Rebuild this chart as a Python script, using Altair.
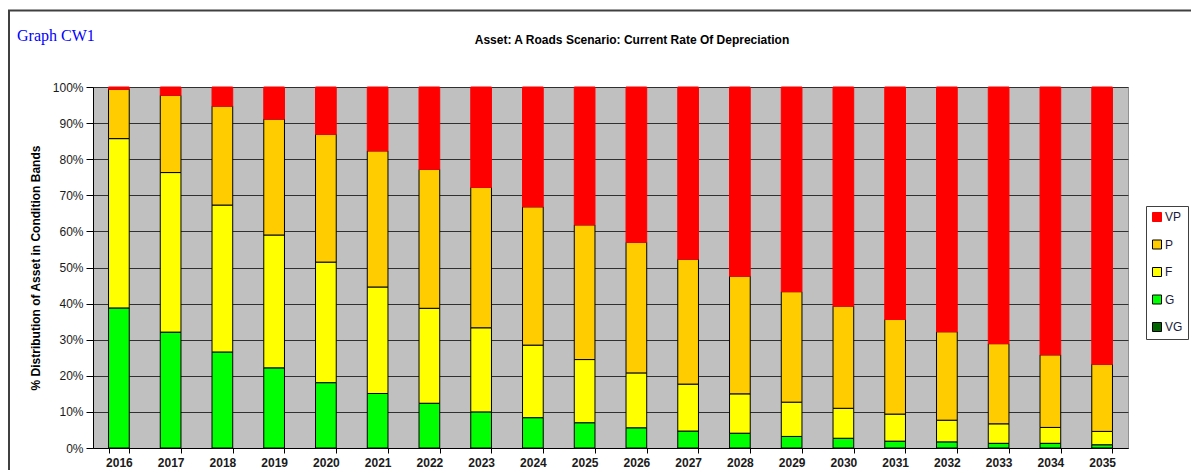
import altair as alt
import pandas as pd

years = [str(y) for y in range(2016, 2036)]
bands = ["VP", "P", "F", "G", "VG"]
band_colors = ["#FF0000", "#FFCC00", "#FFFF00", "#00FF00", "#006600"]
band_strokes = ["#FF0000", "#000000", "#000000", "#000000", "#000000"]

# percentage of asset in each condition band, per year
vg = [0.0] * 20
g = [38.8, 32.1, 26.6, 22.2, 18.1, 15.1, 12.4, 10.0, 8.4, 7.0,
     5.6, 4.7, 4.1, 3.2, 2.7, 1.9, 1.7, 1.3, 1.3, 0.9]
f = [46.9, 44.2, 40.7, 36.8, 33.4, 29.5, 26.3, 23.3, 20.1, 17.5,
     15.2, 13.0, 10.9, 9.5, 8.3, 7.5, 6.0, 5.4, 4.4, 3.7]
p = [13.7, 21.4, 27.4, 32.1, 35.4, 37.7, 38.5, 38.9, 38.3, 37.3,
     36.2, 34.6, 32.6, 30.6, 28.3, 26.2, 24.5, 22.2, 20.1, 18.6]
vp = [0.6, 2.3, 5.3, 8.9, 13.1, 17.7, 22.8, 27.8, 33.2, 38.2,
      43.0, 47.7, 52.4, 56.7, 60.7, 64.4, 67.8, 71.1, 74.2, 76.8]

series = {"VG": vg, "G": g, "F": f, "P": p, "VP": vp}
stack_rank = {"VG": 0, "G": 1, "F": 2, "P": 3, "VP": 4}

rows = []
for b, vals in series.items():
    for y, v in zip(years, vals):
        rows.append({"year": y, "band": b, "share": v / 100.0, "rank": stack_rank[b]})
df = pd.DataFrame(rows)

FONT = "Liberation Sans"

legend_opts = dict(title=None, orient="none", legendX=1053, legendY=119,
                   symbolType="square", symbolSize=81, symbolStrokeWidth=1,
                   labelFont=FONT, labelFontSize=12, labelColor="#1a1a3a",
                   labelOffset=2, padding=5, rowPadding=13.5,
                   strokeColor="#404040", fillColor="#FFFFFF")

bars = alt.Chart(df).mark_bar(strokeWidth=1).encode(
    x=alt.X("year:N", sort=years,
            scale=alt.Scale(paddingInner=0.6, paddingOuter=0.3),
            axis=alt.Axis(title=None, labelAngle=0, tickBand="extent", tickSize=5,
                          labelPadding=4, labelFont=FONT, labelFontSize=12,
                          labelFontWeight="bold", labelColor="#1a1a1a",
                          domainColor="#000000", tickColor="#000000", grid=False)),
    y=alt.Y("share:Q", stack="zero",
            scale=alt.Scale(domain=[0, 1], nice=False),
            axis=alt.Axis(title="% Distribution of Asset in Condition Bands",
                          values=[i / 10 for i in range(11)], format=".0%",
                          tickSize=7, labelPadding=3, labelFont=FONT, labelFontSize=12,
                          labelColor="#1a1a1a", titleFont=FONT, titleFontSize=12,
                          titleFontWeight="bold", titleColor="#000000", titlePadding=10,
                          domainColor="#000000", tickColor="#000000",
                          grid=True, gridColor="#303030", gridWidth=1.2)),
    fill=alt.Fill("band:N", scale=alt.Scale(domain=bands, range=band_colors),
                  legend=alt.Legend(**legend_opts)),
    stroke=alt.Stroke("band:N", scale=alt.Scale(domain=bands, range=band_strokes),
                      legend=alt.Legend(**legend_opts)),
    order=alt.Order("rank:Q", sort="ascending"),
)

one = pd.DataFrame({"k": [0]})

label = alt.Chart(one).mark_text(
    text="Graph CW1", font="Liberation Serif", fontSize=16, color="#0000FF",
    align="left", baseline="middle"
).encode(x=alt.value(-76), y=alt.value(-51))

title = alt.Chart(one).mark_text(
    text="Asset: A Roads Scenario: Current Rate Of Depreciation", font=FONT,
    fontSize=12, fontWeight="bold", color="#000000",
    align="center", baseline="middle"
).encode(x=alt.value(539), y=alt.value(-47))

frame_top = alt.Chart(one).mark_rule(color="#404040", strokeWidth=2).encode(
    x=alt.value(-85), x2=alt.value(1098), y=alt.value(-76.5))
frame_left = alt.Chart(one).mark_rule(color="#404040", strokeWidth=2).encode(
    x=alt.value(-84), y=alt.value(-76.5), y2=alt.value(383))

chart = alt.layer(bars, label, title, frame_top, frame_left).properties(
    width=1035, height=361,
    padding={"left": 85, "top": 79, "right": 63, "bottom": 22},
    autosize="none",
).configure_view(fill="#C0C0C0", stroke="#909090", strokeWidth=1)

chart.save("out.html", embed_options={"renderer": "svg", "actions": False})
